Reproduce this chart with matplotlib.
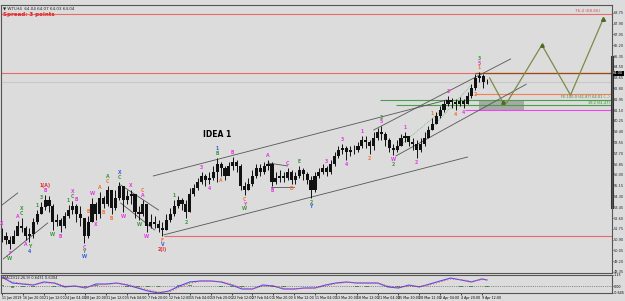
import numpy as np
import matplotlib
matplotlib.use('Agg')
import matplotlib.pyplot as plt
from matplotlib.transforms import blended_transform_factory

closes = [51.19, 50.87, 50.56, 51.19, 51.97, 51.82, 51.19, 51.34, 52.29, 52.92,
          53.47, 54.02, 53.55, 52.29, 52.45, 51.97, 52.76, 53.23, 53.55, 52.92,
          52.60, 51.19, 52.29, 53.71, 52.92, 54.18, 53.71, 54.81, 53.39, 54.18,
          55.12, 54.02, 54.34, 54.49, 53.08, 52.92, 53.71, 51.97, 52.29, 52.13,
          51.82, 51.66, 52.45, 52.92, 53.55, 54.02, 53.71, 53.08, 54.49, 54.96,
          55.44, 55.91, 55.59, 55.75, 56.22, 56.85, 56.54, 55.91, 56.70, 57.01,
          56.70, 55.12, 54.81, 55.28, 55.91, 56.54, 56.22, 56.70, 56.85, 55.44,
          55.75, 55.91, 55.75, 56.22, 55.59, 55.91, 56.38, 56.07, 55.59, 54.81,
          55.91, 56.22, 56.54, 56.22, 56.85, 57.48, 57.96, 58.11, 57.80, 57.96,
          57.96, 58.27, 58.74, 58.58, 58.27, 58.90, 59.37, 59.21, 58.74, 58.11,
          57.96, 58.27, 58.90, 59.06, 58.58, 58.43, 57.96, 58.43, 58.90, 59.53,
          60.00, 60.63, 61.10, 61.58, 61.89, 61.73, 61.58, 61.81, 61.58, 62.20,
          62.83, 63.62, 63.78, 63.31, 63.31]
highs = [51.82, 51.50, 51.19, 51.66, 52.37, 52.60, 51.97, 51.82, 52.60, 53.23,
         53.86, 54.41, 54.34, 53.71, 52.92, 52.60, 53.08, 53.63, 53.94, 53.71,
         53.55, 52.45, 52.76, 54.18, 53.86, 54.65, 54.34, 55.12, 54.81, 54.81,
         55.44, 55.12, 54.81, 54.81, 54.49, 53.55, 54.02, 53.71, 52.92, 52.76,
         52.45, 52.29, 52.92, 53.39, 54.02, 54.34, 54.18, 54.02, 54.96, 55.28,
         55.75, 56.22, 56.07, 56.22, 56.70, 57.33, 57.01, 56.70, 57.01, 57.40,
         57.17, 56.85, 55.44, 55.75, 56.38, 56.85, 56.85, 57.01, 57.17, 57.01,
         56.22, 56.38, 56.22, 56.54, 56.38, 56.22, 56.70, 56.54, 56.22, 55.91,
         56.22, 56.54, 56.85, 56.70, 57.17, 57.80, 58.27, 58.43, 58.27, 58.27,
         58.35, 58.58, 59.06, 59.06, 58.74, 59.37, 59.69, 59.84, 59.37, 58.90,
         58.43, 58.74, 59.21, 59.37, 59.06, 58.90, 58.74, 58.90, 59.37, 59.84,
         60.47, 60.95, 61.42, 61.89, 62.20, 62.05, 61.97, 62.13, 61.97, 62.52,
         63.15, 63.94, 64.09, 63.94, 63.54]
lows = [50.71, 50.56, 50.16, 50.71, 51.34, 51.50, 50.87, 50.71, 51.03, 52.13,
        52.92, 53.23, 53.08, 51.66, 51.97, 51.50, 51.82, 52.60, 52.92, 52.29,
        51.97, 50.64, 51.03, 52.29, 52.45, 52.60, 53.39, 53.55, 52.92, 53.23,
        54.02, 53.08, 53.71, 53.71, 52.60, 52.45, 52.76, 51.50, 51.82, 51.82,
        51.50, 51.19, 51.66, 52.29, 52.76, 53.39, 53.23, 52.60, 53.08, 54.34,
        54.81, 55.28, 55.12, 55.28, 55.59, 55.44, 55.91, 55.59, 56.07, 56.38,
        56.22, 54.81, 54.41, 54.81, 55.12, 55.75, 55.91, 56.07, 56.38, 55.12,
        55.28, 55.44, 55.44, 55.59, 55.28, 55.28, 55.75, 55.59, 55.28, 54.18,
        54.65, 55.75, 56.07, 55.91, 56.07, 56.70, 57.33, 57.64, 57.17, 57.48,
        57.64, 57.80, 58.11, 58.11, 57.64, 57.96, 58.74, 58.74, 58.27, 57.80,
        57.56, 57.80, 58.27, 58.58, 58.27, 57.96, 57.33, 57.80, 58.27, 58.90,
        59.53, 60.00, 60.47, 60.95, 61.42, 61.26, 61.10, 61.42, 61.26, 61.58,
        62.05, 62.68, 63.31, 62.83, 63.15]
bar_step = 3

# MACD panel, sampled every 8 bars (last point = last bar)
osc_bars = list(range(0, 369, 8)) + [372]
macd_main = [0.93, 0.34, 0.24, 0.14, 0.44, 0.34, -0.05, 0.05, -0.15, 0.24,
             0.24, 0.34, 0.14, -0.15, -0.45, -0.64, -0.45, 0.05, 0.44, 0.54,
             0.54, 0.44, 0.14, -0.25, -0.25, 0.14, 0.05, -0.25, -0.25, -0.15,
             -0.15, 0.14, 0.34, 0.44, 0.34, 0.34, 0.34, -0.05, -0.15, 0.14,
             -0.05, 0.24, 0.54, 0.83, 0.64, 0.44, 0.74, 0.64]
macd_signal = [0.80, 0.45, 0.28, 0.18, 0.35, 0.36, 0.05, 0.02, -0.08, 0.12,
               0.22, 0.30, 0.20, -0.05, -0.35, -0.55, -0.52, -0.10, 0.32, 0.50,
               0.54, 0.48, 0.22, -0.15, -0.25, 0.05, 0.06, -0.18, -0.25, -0.18,
               -0.16, 0.05, 0.28, 0.40, 0.38, 0.35, 0.34, 0.05, -0.10, 0.05,
               0.00, 0.15, 0.45, 0.74, 0.68, 0.50, 0.68, 0.66]
macd_hist = [0.13, -0.11, -0.04, -0.04, 0.09, -0.02, -0.10, 0.03, -0.07, 0.12,
             0.02, 0.04, -0.06, -0.10, -0.10, -0.09, 0.07, 0.15, 0.12, 0.04,
             0.00, -0.04, -0.08, -0.10, 0.00, 0.09, -0.01, -0.07, 0.00, 0.03,
             0.01, 0.09, 0.06, 0.04, -0.04, -0.01, 0.00, -0.10, -0.05, 0.09,
             -0.05, 0.09, 0.09, 0.09, -0.04, -0.06, 0.06, -0.02]

date_labels = ['11 Jan 2019', '16 Jan 20:00', '21 Jan 12:00', '24 Jan 04:00',
               '28 Jan 20:00', '31 Jan 12:00', '5 Feb 04:00', '7 Feb 20:00',
               '12 Feb 12:00', '15 Feb 04:00', '19 Feb 20:00', '22 Feb 12:00',
               '27 Feb 04:00', '1 Mar 20:00', '6 Mar 12:00', '11 Mar 04:00',
               '13 Mar 20:00', '18 Mar 12:00', '21 Mar 04:00', '25 Mar 20:00',
               '28 Mar 12:00', '2 Apr 04:00', '4 Apr 20:00', '9 Apr 12:00']

# drawn objects: (bar, price) end points
channel_lines = [((116, 55.91), (341, 61.89)), ((285, 59.53), (390, 65.12)),
                 ((124, 51.27), (357, 57.40)), ((302, 57.48), (402, 63.13)),
                 ((-2, 53.47), (12, 54.57)), ((1, 49.38), (35, 52.21)),
                 ((91, 55.20), (120, 53.23)), ((91, 53.78), (117, 51.66)),
                 ((204, 56.93), (219, 56.70)), ((206, 55.04), (224, 55.04))]
dotted_lines = [((301, 57.96), (336, 60.95)), ((328, 59.53), (360, 63.07))]
projection_bars = [374, 384, 387, 414, 436, 461]
projection_prices = [63.62, 61.73, 61.65, 66.22, 62.28, 68.26]

BG = '#dcdcdc'
M, G, O, B, R = '#e23ee2', '#3a9a3a', '#f07838', '#3c5ae0', '#e03030'
waves = [(0, 'X', M, 'a'), (2, 'F', M, 'b'), (2, 'W', G, 'b'), (4, 'A', M, 'a'),
         (5, 'C', G, 'a'), (5, 'X', G, 'a'), (6, 'A', M, 'b'), (7, 'Y', G, 'b'),
         (7, '4', B, 'b'), (9, '1', G, 'a'), (10, '3', G, 'a'), (11, 'B', M, 'a'),
         (11, '1(A)', R, 'a'), (13, 'W', G, 'b'), (15, 'B', M, 'b'), (17, '1', G, 'a'),
         (18, 'C', G, 'a'), (18, 'X', M, 'a'), (19, 'B', M, 'a'), (21, 'C', M, 'b'),
         (21, 'Y', G, 'b'), (21, 'W', B, 'b'), (22, 'B', O, 'a'), (23, 'W', M, 'a'),
         (24, 'X', M, 'b'), (25, 'A', O, 'a'), (26, 'B', O, 'b'), (27, 'C', O, 'a'),
         (27, 'A', G, 'a'), (28, 'B', O, 'b'), (30, 'C', G, 'a'), (30, 'X', B, 'a'),
         (31, 'W', M, 'b'), (33, 'X', M, 'a'), (35, 'W', G, 'b'), (36, 'A', M, 'a'),
         (36, 'C', O, 'a'), (37, 'W', M, 'b'), (41, 'F', O, 'b'), (41, 'V', B, 'b'),
         (41, '2(I)', R, 'b'), (44, '1', G, 'a'), (47, '2', G, 'b'), (51, '3', M, 'a'),
         (53, '4', M, 'b'), (55, 'B', G, 'a'), (55, '1', B, 'a'), (56, 'A', O, 'b'),
         (59, 'B', M, 'a'), (62, 'C', O, 'b'), (62, 'Y', M, 'b'), (62, 'W', G, 'b'),
         (68, 'A', M, 'a'), (69, 'B', M, 'b'), (73, 'C', M, 'a'), (74, 'D', O, 'b'),
         (76, 'E', G, 'a'), (79, '2', G, 'b'), (79, 'Y', B, 'b'), (83, '3', M, 'a'),
         (87, '3', M, 'a'), (88, '4', M, 'b'), (92, '1', M, 'a'), (94, '2', O, 'b'),
         (97, '5', M, 'a'), (97, '3', G, 'a'), (100, 'W', M, 'b'), (100, '2', G, 'b'),
         (103, '1', M, 'a'), (106, '2', M, 'b'), (110, '1', O, 'a'), (114, '3', M, 'a'),
         (116, '4', O, 'b'), (118, '4', M, 'b'), (121, '2', O, 'b'), (122, '1', O, 'a'),
         (122, '5', M, 'a'), (122, '3', G, 'a')]

fig = plt.figure(figsize=(6.25, 3.01), dpi=100, facecolor=BG)
ax = fig.add_axes([1/625, 28/301, 611/625, 268/301], facecolor=BG)
ax2 = fig.add_axes([1/625, 8/301, 611/625, 18/301], facecolor=BG)

bars = np.arange(len(closes)) * bar_step
opens = [closes[0]] + closes[:-1]
ax.vlines(bars, lows, highs, color='#111111', lw=0.7, zorder=3)
body_lo = np.minimum(opens, closes)
body_h = np.maximum(np.abs(np.array(closes) - np.array(opens)), 0.03)
ax.bar(bars, body_h, bottom=body_lo, width=2.4, color='#111111', lw=0, zorder=3)

xmin, xmax = -0.8, 467.8
ax.set_xlim(xmin, xmax)
ax.set_ylim(48.27, 69.37)

# horizontal levels
ax.axhline(68.66, color='#e86a6a', lw=0.8)
ax.axhline(64.00, color='#e86a6a', lw=0.8)
ax.axhline(closes[-1], color='#c8c8c8', lw=0.8, zorder=1)
ax.hlines(51.19, 124, xmax, color='#e86a6a', lw=0.8)
ax.hlines(64.00, 363, xmax, color='#9a4a10', lw=0.9)
ax.hlines(62.36, 363, xmax, color='#f08050', lw=0.8)
ax.hlines(61.87, 290, xmax, color='#4aa04a', lw=0.8)
ax.hlines(61.47, 302, xmax, color='#4aa04a', lw=0.8)
ax.hlines(61.10, 355, xmax, color='#ee44ee', lw=0.8)
ax.fill_between([366, 400], 61.10, 61.89, color='#a8a8a8', lw=0, zorder=1)

for (x0, y0), (x1, y1) in channel_lines:
    ax.plot([x0, x1], [y0, y1], color='#555555', lw=0.6, zorder=2)
for (x0, y0), (x1, y1) in dotted_lines:
    ax.plot([x0, x1], [y0, y1], color='#4aa04a', lw=0.5, ls=':', zorder=2)

ax.plot(projection_bars, projection_prices, color='#7d8a48', lw=0.9, zorder=4)
ax.plot(projection_bars[1::2] + [projection_bars[-1]], projection_prices[1::2] + [projection_prices[-1]],
        ls='none', marker='^', ms=2.5, color='#4f6a20', zorder=5)

ax.text(459, 68.72, '76.4 (68.66)', fontsize=3, color='#d05050', ha='right', va='bottom')
ax.text(466, 61.93, 'FE 100.0 (61.87) 64.01 (...)', fontsize=2.6, color='#3a8a3a', ha='right', va='bottom')
ax.text(466, 61.52, '38.2 (61.47)', fontsize=2.6, color='#3a8a3a', ha='right', va='bottom')
ax.text(165, 59.2, 'IDEA 1', fontsize=5.5, fontweight='bold', color='black', ha='center', va='center')

# wave labels
stack = {}
for i, txt, col, side in waves:
    n = stack.get((i, side), 0)
    stack[(i, side)] = n + 1
    if side == 'a':
        ax.annotate(txt, (bars[i], highs[i]), xytext=(0, 1.5 + 3.2 * n), textcoords='offset points',
                    fontsize=3.3, color=col, ha='center', va='bottom', fontweight='bold', zorder=6)
    else:
        ax.annotate(txt, (bars[i], lows[i]), xytext=(0, -1.5 - 3.2 * n), textcoords='offset points',
                    fontsize=3.3, color=col, ha='center', va='top', fontweight='bold', zorder=6)

# price axis
ticks = [round(48.35 + 0.85 * k, 2) for k in range(25)]
ax.yaxis.tick_right()
ax.set_yticks(ticks)
ax.set_yticklabels(['%.2f' % t for t in ticks])
ax.tick_params(axis='y', labelsize=2.5, length=1, width=0.5, pad=0.3, colors='#222222')
ax.set_xticks([])
for s in ax.spines.values():
    s.set_color('#555555')
    s.set_linewidth(0.8)
trans = blended_transform_factory(ax.transAxes, ax.transData)
ax.text(1.002, 64.0, '64.00', transform=trans, fontsize=2.5, color='white', va='center', ha='left',
        bbox=dict(boxstyle='square,pad=0.15', fc='black', ec='none'))
ax.plot([1.0, 1.0], [53.47, 65.27], transform=trans, color='#303030', lw=2.2, clip_on=False)

# oscillator
ax2.bar(osc_bars, macd_hist, width=3, color='#5aa05a', lw=0)
ax2.plot(osc_bars, macd_main, color='#4a4aff', lw=0.8)
ax2.plot(osc_bars, macd_signal, color='#ff5050', lw=0.8, ls=':')
ax2.axhline(0, color='#404040', lw=0.5, ls=':')
ax2.set_xlim(xmin, xmax)
ax2.set_ylim(-0.645, 1.13)
ax2.yaxis.tick_right()
ax2.set_yticks([1.13, 0.0, -0.645])
ax2.set_yticklabels(['1.13', '0.00', '-0.645'])
ax2.tick_params(axis='y', labelsize=2.4, length=1, width=0.5, pad=0.3)
ax2.set_xticks([16 * k for k in range(len(date_labels))])
ax2.set_xticklabels(date_labels, ha='left')
ax2.tick_params(axis='x', labelsize=2.3, length=1.5, width=0.5, pad=0.6)
for s in ax2.spines.values():
    s.set_color('#555555')
    s.set_linewidth(0.8)
ax2.text(0.003, 0.97, 'MACD(12,26,9) 0.6431 0.6304', transform=ax2.transAxes, fontsize=2.6,
         va='top', ha='left', color='#222222')

fig.text(3/625, 1 - 9/301, '\u25bc WTI,H4  64.04 64.07 64.03 64.04', fontsize=3, color='#222222')
fig.text(3/625, 1 - 16/301, 'Spread: 3 points', fontsize=4, color='#e02020', fontweight='bold')

fig.savefig('out.png', dpi=100, facecolor=BG)
